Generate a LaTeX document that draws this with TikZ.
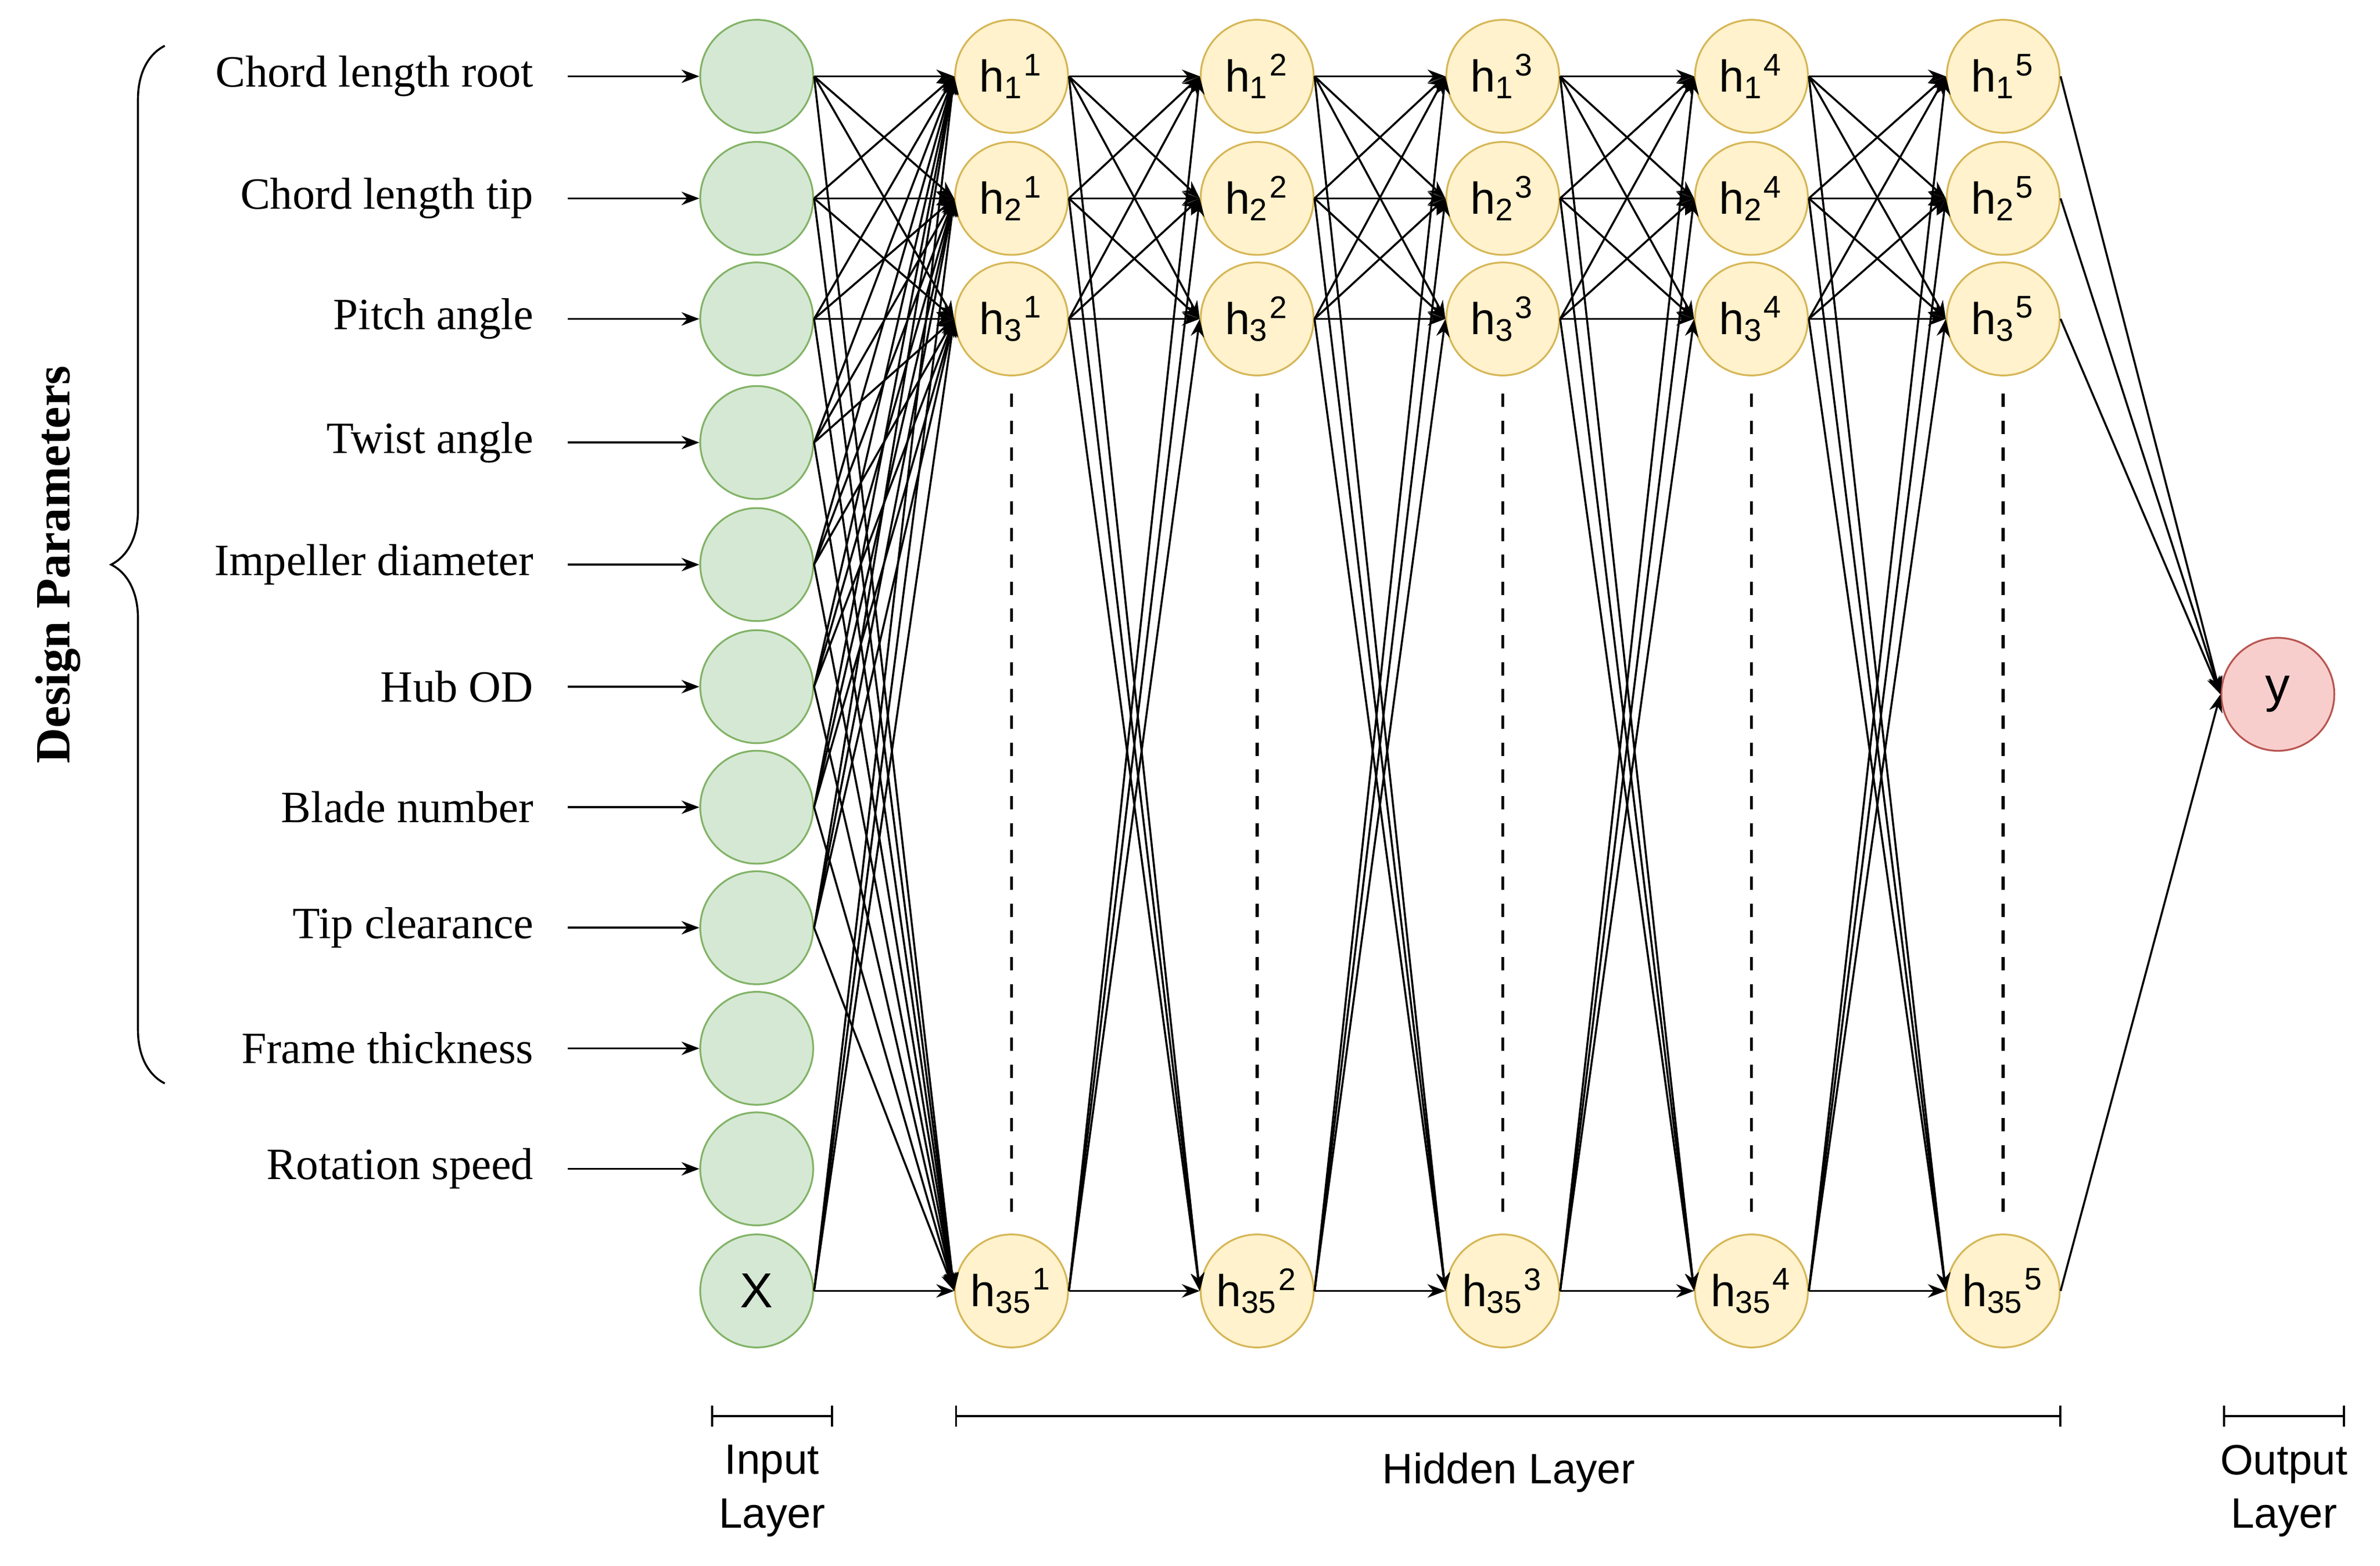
\documentclass[tikz,border=0pt]{standalone}
\usepackage{fontspec}
\setmainfont{Liberation Serif}
\newfontfamily\sansfont{Liberation Sans}
\usetikzlibrary{arrows.meta, positioning, decorations.pathreplacing}
\definecolor{ingreen}{HTML}{D5E8D4}
\definecolor{ingreenline}{HTML}{82B366}
\definecolor{hidyellow}{HTML}{FFF2CC}
\definecolor{hidyellowline}{HTML}{D6B656}
\definecolor{outred}{HTML}{F8CECC}
\definecolor{outredline}{HTML}{B85450}

\begin{document}
\begin{tikzpicture}[x=0.012cm, y=-0.012cm,
	  inputnode/.style={
	  	circle,
	  	draw=ingreenline,
	  	fill=ingreen,
	  	minimum size=0.888cm,
	  	inner sep=0pt,
	  	font=\sansfont\fontsize{11}{13}\selectfont
	  },
	  hiddennode/.style={
		  circle,
		  draw=hidyellowline,
		  fill=hidyellow,
		  minimum size=0.888cm,
		  inner sep=0pt,
		  font=\sansfont\fontsize{10}{12}\selectfont
	  },
	  outputnode/.style={
		  circle,
		  draw=outredline,
		  fill=outred,
		  minimum size=0.888cm,
		  inner sep=0pt,
		  font=\sansfont\fontsize{11}{13}\selectfont
	  },
	  param/.style={anchor=east, font=\fontsize{10}{12}\selectfont},
	  link/.style={-{Stealth[length=4pt,width=3pt]}, line width=0.45pt},
	  bar/.style={|-|, line width=0.45pt},
	  layerlabel/.style={align=center, font=\sansfont\fontsize{9.5}{12}\selectfont}]
	\useasboundingbox (0,0) rectangle (1560,1026);
	% Input layer
	\foreach \n/\y/\t in {1/50/Chord length root, 2/130/Chord length tip, 3/209/Pitch angle,
		4/290/Twist angle, 5/370/Impeller diameter, 6/450/Hub OD, 7/529/Blade number,
		8/608/Tip clearance, 9/687/Frame thickness, 10/766/Rotation speed} {
		\node[inputnode] (i\n) at (496,\y) {};
		\node[param] (p\n) at (360,\y) {\t};
		\coordinate (s\n) at (372,\y);
		\draw[link] (s\n) -- (i\n);
	}
	\node[inputnode] (i11) at (496,846) {X};
	% Hidden layers
	\foreach \c/\x in {1/663, 2/824, 3/985, 4/1148, 5/1313} {
		\node[hiddennode] (h\c-1) at (\x,50) {h\textsubscript{1}\textsuperscript{\c}};
		\node[hiddennode] (h\c-2) at (\x,130) {h\textsubscript{2}\textsuperscript{\c}};
		\node[hiddennode] (h\c-3) at (\x,209) {h\textsubscript{3}\textsuperscript{\c}};
		\node[hiddennode] (h\c-35) at (\x,846) {h\textsubscript{35}\textsuperscript{\c}};
		\coordinate (dt\c) at (\x,258);
		\coordinate (db\c) at (\x,795);
		\draw[dashed, line width=0.7pt] (dt\c) -- (db\c);
	}
	\node[outputnode] (y) at (1493,455) {y};
	% Connections
	\foreach \i in {1,...,8,11}
		\foreach \r in {1,2,3,35}
			\draw[link] (i\i.east) -- (h1-\r.west);
	\foreach \c [evaluate=\c as \d using int(\c+1)] in {1,...,4}
		\foreach \a in {1,2,3,35}
			\foreach \b in {1,2,3,35}
				\draw[link] (h\c-\a.east) -- (h\d-\b.west);
	\foreach \r in {1,2,3,35}
		\draw[link] (h5-\r.east) -- (y.west);
	% Brace and layer bars
	\draw[decorate, decoration={brace, amplitude=12pt}, line width=0.45pt] (108,710) -- (108,30);
	\node[rotate=90, font=\bfseries\fontsize{11}{13}\selectfont] (dp) at (38,370) {Design Parameters};
	\draw[bar] (466,928) -- (546,928);
	\draw[bar] (626,928) -- (1351,928);
	\draw[bar] (1457,928) -- (1537,928);
	\node[layerlabel] (li) at (506,977) {Input\\Layer};
	\node[layerlabel] (lh) at (989,965) {Hidden Layer};
	\node[layerlabel] (lo) at (1497,977) {Output\\Layer};
\end{tikzpicture}
\end{document}
